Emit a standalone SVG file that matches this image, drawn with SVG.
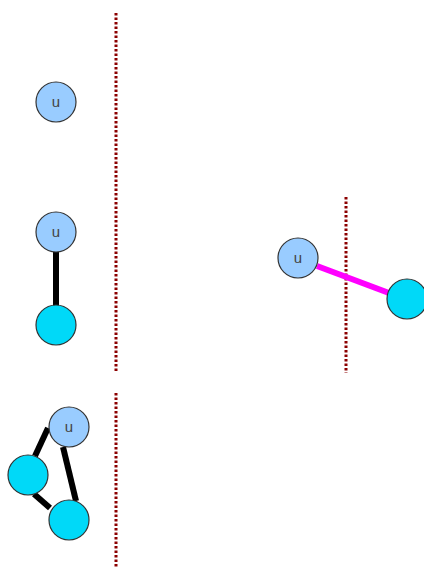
<svg xmlns="http://www.w3.org/2000/svg" width="424" height="568" viewBox="0 0 424 568">
<style>
.u{fill:#99ccff;stroke:#333;stroke-width:1.2}
.c{fill:#00d9f8;stroke:#333;stroke-width:1.2}
.t{font-family:"Liberation Sans",Arial,sans-serif;font-size:15px;fill:#444;text-anchor:middle}
.e{stroke:#000;stroke-width:6;fill:none}
.m{stroke:#ff00ff;stroke-width:6;fill:none}
.d{stroke:#8b0000;stroke-width:3;stroke-dasharray:2.5 2;fill:none}
</style>
<rect width="424" height="568" fill="#fff"/>
<g id="dividers">
<line class="d" x1="116" y1="13" x2="116" y2="372"/>
<line class="d" x1="116" y1="393" x2="116" y2="568"/>
<line class="d" x1="346" y1="197" x2="346" y2="373"/>
</g>
<g id="connectors">
<line class="e" x1="56" y1="252" x2="56" y2="306"/>
<line class="e" x1="48" y1="428" x2="35" y2="456"/>
<line class="e" x1="63" y1="447" x2="76" y2="501"/>
<line class="e" x1="34" y1="494" x2="50" y2="508"/>
<line class="m" x1="317" y1="266" x2="389" y2="293"/>
</g>
<g id="n1"><circle class="u" cx="56" cy="102" r="20"/><text class="t" x="56" y="107">u</text></g>
<g id="n2"><circle class="u" cx="56" cy="232" r="20"/><text class="t" x="56" y="237">u</text></g>
<g id="n3"><circle class="c" cx="56" cy="325" r="20"/></g>
<g id="n4"><circle class="u" cx="69" cy="427" r="20"/><text class="t" x="69" y="432">u</text></g>
<g id="n5"><circle class="c" cx="28" cy="475" r="20"/></g>
<g id="n6"><circle class="c" cx="69" cy="520" r="20"/></g>
<g id="n7"><circle class="u" cx="298" cy="258" r="20"/><text class="t" x="298" y="263">u</text></g>
<g id="n8"><circle class="c" cx="407" cy="299" r="20"/></g>
</svg>
